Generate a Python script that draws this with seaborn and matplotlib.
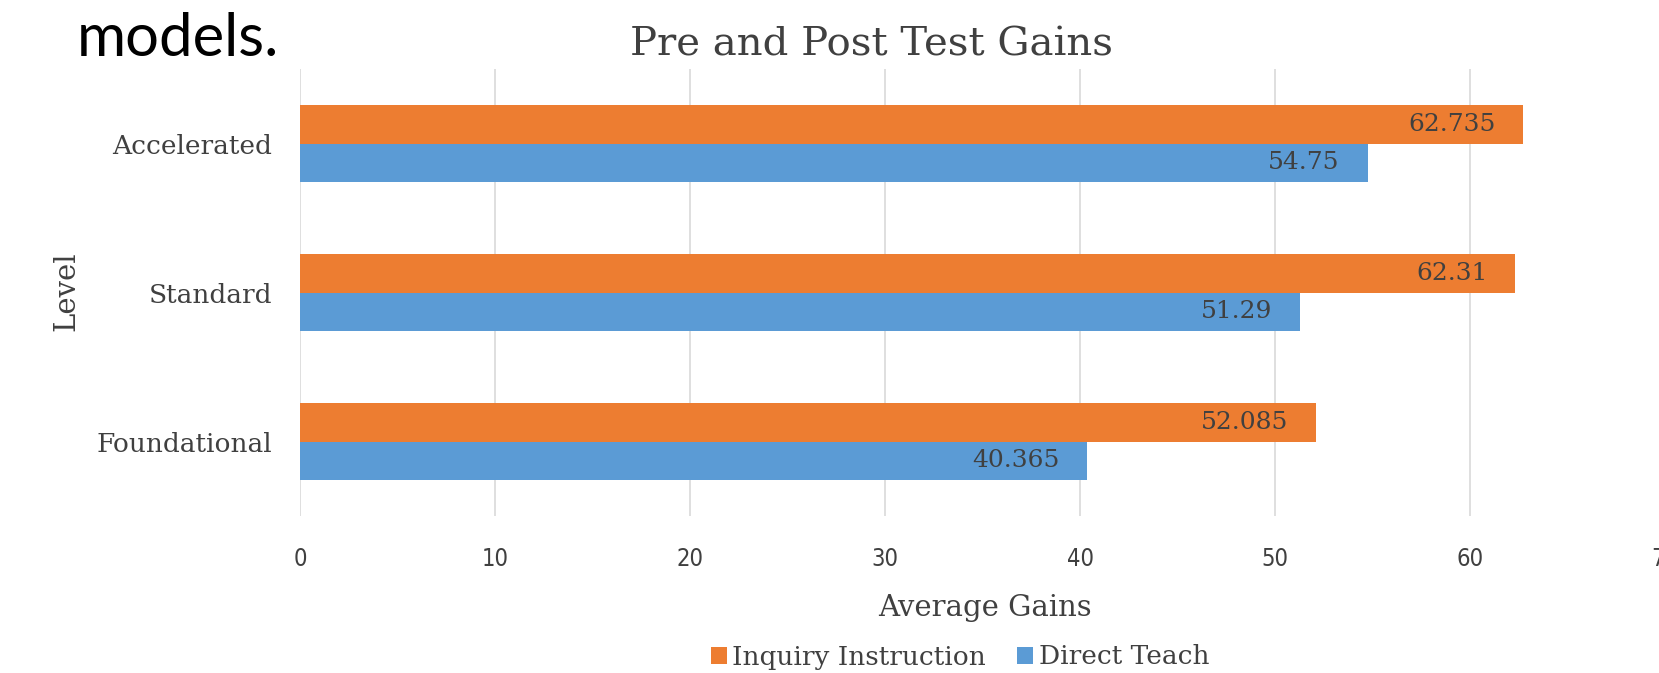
# -*- coding: utf-8 -*-
"""
Pre and post test gains by level, inquiry instruction vs direct teach.
"""

import pandas as pd
import seaborn as sns
from matplotlib import pyplot as plt


# chart values
levels = ['Accelerated', 'Standard', 'Foundational']
inquiry_gains = [62.735, 62.31, 52.085]
direct_gains = [54.75, 51.29, 40.365]
methods = ['Inquiry Instruction', 'Direct Teach']
x_ticks = [0, 10, 20, 30, 40, 50, 60, 70]

# long table for seaborn
gains = pd.DataFrame({
    'level': levels * 2,
    'method': [methods[0]] * 3 + [methods[1]] * 3,
    'gain': inquiry_gains + direct_gains,
})

text_grey = '#404040'
serif = ['DejaVu Serif']

sns.set_style('white')
plt.rcParams['font.family'] = serif

fig = plt.figure(figsize = (16.59, 6.73), dpi = 100)
ax = fig.add_axes([300 / 1659, 1 - 516 / 673, 1365 / 1659, 447 / 673])

sns.barplot(data = gains, x = 'gain', y = 'level', hue = 'method',
            order = levels, hue_order = methods,
            palette = ['#ED7D31', '#5B9BD5'], orient = 'h',
            width = 0.52, gap = 0, saturation = 1, linewidth = 0,
            ax = ax, legend = True)

# value labels inside the bar ends
for bars in ax.containers:
    for bar, v in zip(bars, bars.datavalues):
        ax.annotate(f'{v:g}', (bar.get_width(), bar.get_y() + bar.get_height() / 2),
                    xytext = (-20, 0), textcoords = 'offset points',
                    ha = 'right', va = 'center', fontsize = 18, color = text_grey)

ax.set_xlim(0, 70)
ax.set_xticks(x_ticks)
ax.set_xticklabels([str(t) for t in x_ticks], fontsize = 17, color = text_grey,
                   family = ['DejaVu Sans'], fontstretch = 'condensed')
ax.tick_params(axis = 'x', length = 0, pad = 22)
ax.tick_params(axis = 'y', length = 0, pad = 20, labelsize = 19, labelcolor = text_grey)
ax.xaxis.grid(True, color = '#D9D9D9', linewidth = 1.2)
ax.set_axisbelow(True)
for side in ['top', 'right', 'bottom', 'left']:
    ax.spines[side].set_visible(False)

ax.set_xlabel('')
ax.set_ylabel('')
ax.get_legend().remove()

# figure-level texts placed like the slide
fig.text(66 / 1659, 1 - 291 / 673, 'Level', rotation = 90, ha = 'center', va = 'center',
         fontsize = 21, color = text_grey)
fig.text(872 / 1659, 1 - 45 / 673, 'Pre and Post Test Gains', ha = 'center', va = 'center',
         fontsize = 29, color = text_grey)
fig.text(985 / 1659, 1 - 608 / 673, 'Average Gains', ha = 'center', va = 'center',
         fontsize = 21, color = text_grey)
fig.text(77 / 1659, 1 - 39 / 673, 'models.', ha = 'left', va = 'center',
         fontsize = 43, color = 'black', family = ['Lato', 'DejaVu Sans'])

handles, labels = ax.get_legend_handles_labels()
fig.legend(handles, labels, loc = 'center', bbox_to_anchor = (960 / 1659, 1 - 657 / 673),
           ncol = 2, frameon = False, fontsize = 19, labelcolor = text_grey,
           handlelength = 0.6, handleheight = 0.6, handletextpad = 0.2, columnspacing = 1.2,
           borderpad = 0)

fig.savefig('out.png', dpi = 100)
